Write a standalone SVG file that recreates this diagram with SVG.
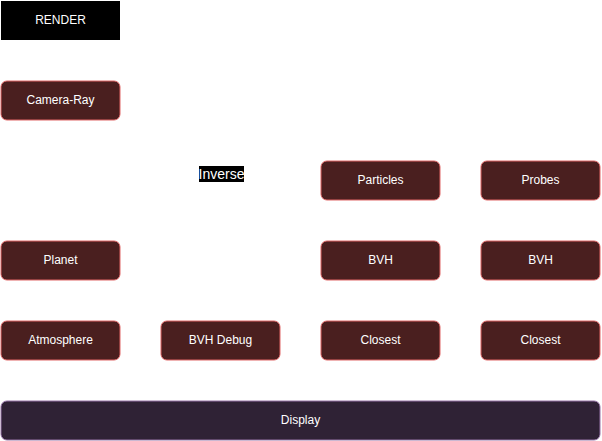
<svg xmlns="http://www.w3.org/2000/svg" width="602" height="441" viewBox="0 0 602 441">
<style>
.n{fill:#4a1f1f;stroke:#e06666;stroke-width:1}
.d{fill:#2f2235;stroke:#9673a6;stroke-width:1}
text{font-family:"Liberation Sans",Arial,sans-serif;font-size:12px;fill:#ffffff;text-anchor:middle;dominant-baseline:central}
</style>
<rect width="602" height="441" fill="#ffffff"/>
<g id="connectors"></g>
<g id="render"><rect x="1" y="1" width="119" height="39" fill="#000000"/><text x="60.5" y="19.5">RENDER</text></g>
<g id="camera-ray"><rect class="n" x="1" y="81" width="119" height="39" rx="5.85"/><text x="60.5" y="99.5">Camera-Ray</text></g>
<g id="inverse"><rect x="199" y="166" width="45" height="16" fill="#000000"/><text x="221.5" y="173.5" style="font-size:14px">Inverse</text></g>
<g id="particles"><rect class="n" x="321" y="161" width="119" height="39" rx="5.85"/><text x="380.5" y="179.5">Particles</text></g>
<g id="probes"><rect class="n" x="481" y="161" width="119" height="39" rx="5.85"/><text x="540.5" y="179.5">Probes</text></g>
<g id="planet"><rect class="n" x="1" y="241" width="119" height="39" rx="5.85"/><text x="60.5" y="259.5">Planet</text></g>
<g id="bvh1"><rect class="n" x="321" y="241" width="119" height="39" rx="5.85"/><text x="380.5" y="259.5">BVH</text></g>
<g id="bvh2"><rect class="n" x="481" y="241" width="119" height="39" rx="5.85"/><text x="540.5" y="259.5">BVH</text></g>
<g id="atmosphere"><rect class="n" x="1" y="321" width="119" height="39" rx="5.85"/><text x="60.5" y="339.5">Atmosphere</text></g>
<g id="bvh-debug"><rect class="n" x="161" y="321" width="119" height="39" rx="5.85"/><text x="220.5" y="339.5">BVH Debug</text></g>
<g id="closest1"><rect class="n" x="321" y="321" width="119" height="39" rx="5.85"/><text x="380.5" y="339.5">Closest</text></g>
<g id="closest2"><rect class="n" x="481" y="321" width="119" height="39" rx="5.85"/><text x="540.5" y="339.5">Closest</text></g>
<g id="display"><rect class="d" x="1" y="401" width="599" height="39" rx="5.85"/><text x="300.5" y="419.5">Display</text></g>
</svg>
